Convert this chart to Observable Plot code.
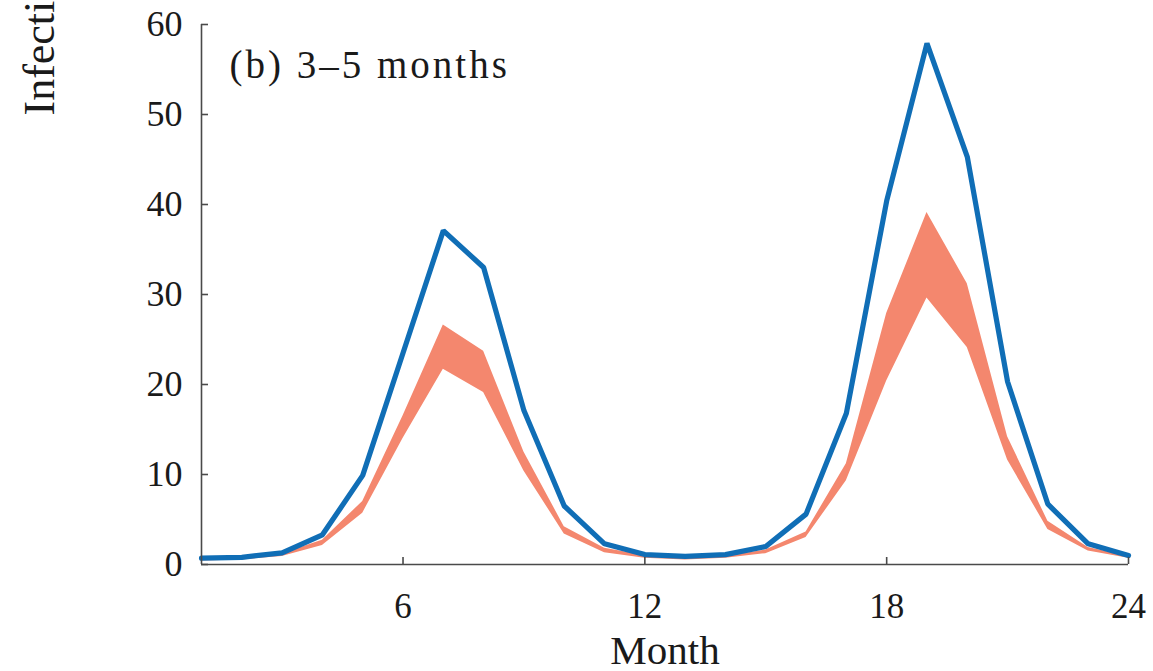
<!DOCTYPE html>
<html>
<head>
<meta charset="utf-8">
<script src="https://cdn.jsdelivr.net/npm/d3@7"></script>
<script src="https://cdn.jsdelivr.net/npm/@observablehq/plot@0.6"></script>
<style>
  html, body { margin: 0; padding: 0; background: #fff; overflow: hidden; }
  #chart { width: 1153px; height: 671px; }
</style>
</head>
<body>
<div id="chart"></div>
<script>
// ---- data ----
const months = [1,2,3,4,5,6,7,8,9,10,11,12,13,14,15,16,17,18,19,20,21,22,23,24];
const observed = [0.7,0.8,1.3,3.3,9.9,23.5,37.1,33.0,17.1,6.5,2.3,1.1,0.9,1.1,2.0,5.6,16.8,40.4,57.9,45.3,20.3,6.7,2.3,1.0];
const bandLow  = [0.4,0.5,0.9,2.1,5.7,14.0,21.7,19.1,10.4,3.4,1.3,0.7,0.5,0.7,1.2,3.0,9.3,20.4,29.6,24.1,11.6,3.9,1.5,0.7];
const bandHigh = [0.6,0.7,1.2,2.7,7.0,16.5,26.6,23.7,12.5,4.2,1.8,1.0,0.7,0.9,1.6,3.6,11.2,27.9,39.1,31.2,14.2,4.8,1.9,0.9];
const xTicks = [6,12,18,24];
const yTicks = [0,10,20,30,40,50,60];
const panelLabel = ["(b) 3–5 months"];
const xTitle = ["Month"];
const yTitle = ["Infections"];

const data = months.map((m, i) => ({month: m, obs: observed[i], lo: bandLow[i], hi: bandHigh[i]}));

const axisColor = "#4a4a4a";
const textColor = "#1a1a1a";

const chart = Plot.plot({
  width: 1153,
  height: 671,
  marginLeft: 201,
  marginRight: 25,
  marginTop: 24,
  marginBottom: 107,
  x: {domain: [1, 24]},
  y: {domain: [0, 60]},
  style: {fontFamily: "'Liberation Serif', 'DejaVu Serif', serif", background: "#fff", color: textColor},
  marks: [
    Plot.areaY(data, {x: "month", y1: "lo", y2: "hi", fill: "#f4876e", fillOpacity: 1}),
    Plot.lineY(data, {x: "month", y: "obs", stroke: "#106eb6", strokeWidth: 5.2, strokeLinejoin: "miter"}),
    Plot.ruleX([1], {stroke: axisColor, strokeWidth: 1.6}),
    Plot.ruleY([0], {stroke: axisColor, strokeWidth: 1.6}),
    Plot.axisY({ticks: yTicks, tickSize: 7, dx: 7, tickFormat: () => "", label: null, stroke: axisColor, strokeWidth: 1.6}),
    Plot.axisY({ticks: yTicks, tickSize: 0, tickPadding: 19, fontSize: 36, label: null, fill: textColor}),
    Plot.axisX({ticks: xTicks, tickSize: 7, dy: -7, tickFormat: () => "", label: null, stroke: axisColor, strokeWidth: 1.6}),
    Plot.axisX({ticks: xTicks, tickSize: 0, tickPadding: 29, fontSize: 35, label: null, fill: textColor}),
    Plot.text(xTitle, {text: d => d, frameAnchor: "bottom", dy: 99, lineAnchor: "bottom", fontSize: 41, fill: textColor}),
    Plot.text(panelLabel, {text: d => d, frameAnchor: "top-left", dx: 28, dy: 53, textAnchor: "start", lineAnchor: "bottom", fontSize: 39, fill: textColor}),
    Plot.text(yTitle, {text: d => d, frameAnchor: "top-left", rotate: -90, dx: -148, dy: 91, textAnchor: "start", lineAnchor: "bottom", fontSize: 44, fill: textColor})
  ]
});
// widen the panel label's letter spacing to match the reference's wider typeface
d3.select(chart).selectAll("text").filter(function() { return this.textContent === panelLabel[0]; })
  .style("letter-spacing", "3px");
document.getElementById("chart").appendChild(chart);
</script>
</body>
</html>
